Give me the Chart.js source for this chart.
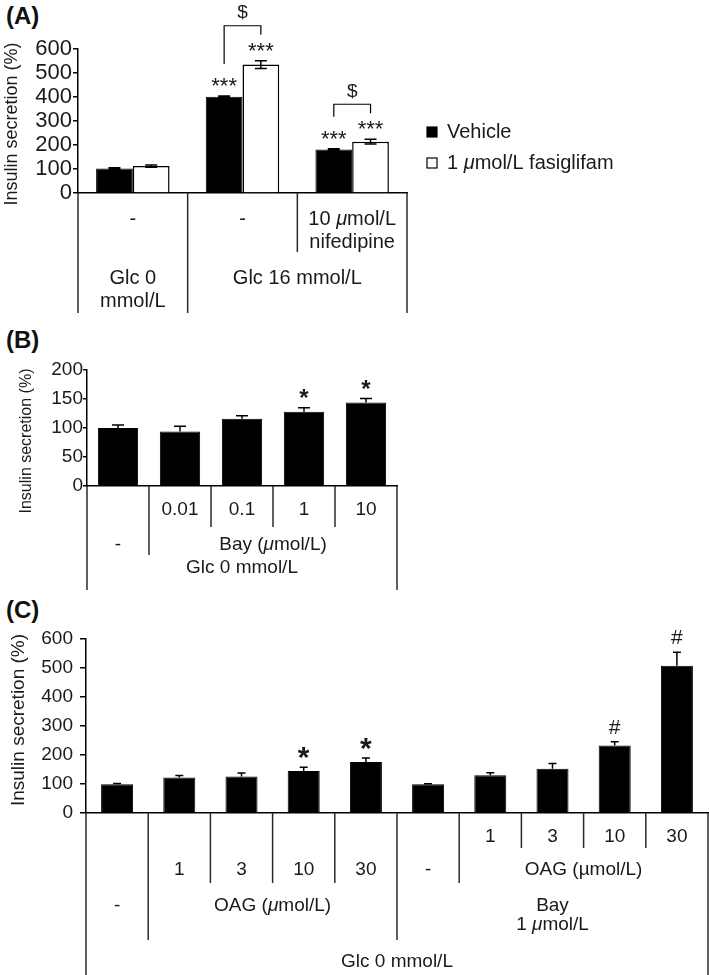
<!DOCTYPE html>
<html>
<head>
<meta charset="utf-8">
<script src="https://cdn.jsdelivr.net/npm/chart.js@4.4.1/dist/chart.umd.min.js"></script>
<style>
  html, body { margin: 0; padding: 0; background: #fff; }
  body { width: 709px; height: 975px; position: relative; overflow: hidden; font-family: 'Liberation Sans', Arial, sans-serif; }
  canvas { position: absolute; left: 0; }
  .lab { position: absolute; left: 6px; font-weight: bold; font-size: 24px; line-height: 24px; color: #111; }
</style>
</head>
<body>
<div class="lab" style="top:4px">(A)</div>
<div class="lab" style="top:328px">(B)</div>
<div class="lab" style="top:598px">(C)</div>
<canvas id="chartA" width="709" height="316" style="top:0"></canvas>
<canvas id="chartB" width="709" height="292" style="top:300px"></canvas>
<canvas id="chartC" width="709" height="375" style="top:600px"></canvas>
<script>
const FONT = "'Liberation Sans', Arial, sans-serif";
const INK = '#1a1a1a';
const Y_TITLE = 'Insulin secretion (%)';

// (A) vehicle vs fasiglifam, Glc 0 / Glc 16 / Glc 16 + nifedipine
const groupsA = ['Glc 0', 'Glc 16', 'Glc 16 + nifedipine'];
const vehicleA = [102, 401, 181];
const vehicleErrA = [3, 3, 3];
const fasiglifamA = [112, 535, 214];
const fasiglifamErrA = [5, 16, 10];
const starsVehicleA = ['', '***', '***'];
const starsFasiglifamA = ['', '***', '***'];
const dollarA = [false, true, true];
const ticksA = [0, 100, 200, 300, 400, 500, 600];
const legendA = ['Vehicle', '1 _μ_mol/L fasiglifam'];
// cells: [text, span]; text between _ _ is italic
const tableA = [
  [['-', 1], ['-', 1], ['10 _μ_mol/L\nnifedipine', 1]],
  [['Glc 0\nmmol/L', 1], ['Glc 16 mmol/L', 2]]
];

// (B) Bay dose response at Glc 0
const dosesB = ['-', '0.01', '0.1', '1', '10'];
const bayB = [100, 94, 116, 128, 144];
const bayErrB = [5, 9, 5, 7, 7];
const marksB = ['', '', '', '*', '*'];
const ticksB = [0, 50, 100, 150, 200];
const tableB = [
  [['', 1], ['0.01', 1], ['0.1', 1], ['1', 1], ['10', 1]],
  [['-', 1], ['Bay (_μ_mol/L)', 4]],
  [['Glc 0 mmol/L', 5]]
];

// (C) OAG with / without Bay 1 umol/L
const groupsC = ['-', 'OAG 1', 'OAG 3', 'OAG 10', 'OAG 30', 'Bay', 'Bay+OAG 1', 'Bay+OAG 3', 'Bay+OAG 10', 'Bay+OAG 30'];
const oagC = [99, 122, 126, 145, 176, 99, 130, 153, 233, 508];
const oagErrC = [3, 7, 12, 13, 14, 2, 9, 18, 13, 46];
const marksC = ['', '', '', '*', '*', '', '', '', '#', '#'];
const ticksC = [0, 100, 200, 300, 400, 500, 600];
const tableC = [
  [['', 6], ['1', 1], ['3', 1], ['10', 1], ['30', 1]],
  [['', 1], ['1', 1], ['3', 1], ['10', 1], ['30', 1], ['-', 1], ['OAG (µmol/L)', 4]],
  [['-', 1], ['OAG (_μ_mol/L)', 4], ['Bay\n1 _μ_mol/L', 5]],
  [['Glc 0 mmol/L', 10]]
];

Chart.defaults.font.family = FONT;
Chart.defaults.color = INK;

// text with italic pieces (marked by _), centred or left aligned
function drawRich(ctx, str, x, cy, size, align) {
  const parts = str.split('_');
  const fonts = parts.map((p, i) => (i % 2 ? 'italic ' : '') + size + 'px ' + FONT);
  let w = 0;
  parts.forEach((p, i) => { ctx.font = fonts[i]; w += ctx.measureText(p).width; });
  let cur = align === 'left' ? x : x - w / 2;
  ctx.textAlign = 'left';
  ctx.textBaseline = 'middle';
  parts.forEach((p, i) => {
    ctx.font = fonts[i];
    ctx.fillText(p, cur, cy);
    cur += ctx.measureText(p).width;
  });
}

// glyph centred on cy (uses real ink box)
function drawMark(ctx, text, x, cy, font) {
  ctx.font = font;
  ctx.textAlign = 'center';
  ctx.textBaseline = 'alphabetic';
  const m = ctx.measureText(text);
  ctx.fillText(text, x, cy + (m.actualBoundingBoxAscent - m.actualBoundingBoxDescent) / 2);
}

function extras(cfg) {
  return {
    id: 'extras',
    afterDatasetsDraw(chart) {
      const ctx = chart.ctx, ys = chart.scales.y, xs = chart.scales.x, area = chart.chartArea;
      ctx.save();
      ctx.fillStyle = INK;

      // error bars
      ctx.strokeStyle = '#000';
      ctx.lineWidth = 1.5;
      const tops = [];
      chart.data.datasets.forEach((ds, di) => {
        const meta = chart.getDatasetMeta(di);
        tops[di] = [];
        meta.data.forEach((bar, i) => {
          const v = ds.data[i], e = cfg.errs[di][i];
          const top = ys.getPixelForValue(v + e);
          const bot = cfg.both ? ys.getPixelForValue(v - e) : ys.getPixelForValue(v);
          tops[di][i] = top;
          ctx.beginPath();
          ctx.moveTo(bar.x, top); ctx.lineTo(bar.x, bot);
          ctx.moveTo(bar.x - cfg.cap, top); ctx.lineTo(bar.x + cfg.cap, top);
          if (cfg.both) { ctx.moveTo(bar.x - cfg.cap, bot); ctx.lineTo(bar.x + cfg.cap, bot); }
          ctx.stroke();
        });
      });

      // significance marks
      const markY = [];
      chart.data.datasets.forEach((ds, di) => {
        const meta = chart.getDatasetMeta(di);
        markY[di] = [];
        cfg.marks[di].forEach((mk, i) => {
          if (!mk) return;
          const st = cfg.markStyle[mk];
          const cy = tops[di][i] - st.gap;
          markY[di][i] = cy;
          drawMark(ctx, mk, meta.data[i].x, cy, st.font);
        });
      });

      // $ brackets between the two series
      if (cfg.brackets) {
        const m0 = chart.getDatasetMeta(0), m1 = chart.getDatasetMeta(1);
        cfg.brackets.forEach((on, i) => {
          if (!on) return;
          const x0 = m0.data[i].x, x1 = m1.data[i].x;
          const l0 = markY[0][i] - 18, l1 = markY[1][i] - 12;
          const ly = Math.min(l0, l1) - 9;
          ctx.beginPath();
          ctx.moveTo(x0, l0); ctx.lineTo(x0, ly); ctx.lineTo(x1, ly); ctx.lineTo(x1, l1);
          ctx.lineWidth = 1.2;
          ctx.stroke();
          drawMark(ctx, '$', (x0 + x1) / 2, ly - 13, '19px ' + FONT);
        });
      }

      // category table under the axis
      const t = cfg.table;
      const n = chart.data.labels.length;
      const step = xs.getPixelForValue(1) - xs.getPixelForValue(0);
      const edge = k => xs.getPixelForValue(0) - step / 2 + k * step;
      const deep = new Array(n + 1).fill(area.bottom);
      let rowTop = area.bottom;
      ctx.fillStyle = INK;
      t.rows.forEach((row, r) => {
        const rowBot = rowTop + t.heights[r];
        let k = 0;
        deep[0] = Math.max(deep[0], rowBot);
        row.forEach(([txt, span]) => {
          const cx = (edge(k) + edge(k + span)) / 2;
          if (txt) {
            txt.split('\n').forEach((ln, j) => drawRich(ctx, ln, cx, rowTop + t.offsets[r] + j * t.lineH, t.size));
          }
          k += span;
          deep[k] = Math.max(deep[k], rowBot);
        });
        rowTop = rowBot;
      });
      ctx.strokeStyle = '#2a2a2a';
      ctx.lineWidth = 1.5;
      deep.forEach((b, k) => {
        if (b <= area.bottom) return;
        ctx.beginPath();
        ctx.moveTo(edge(k), area.bottom);
        ctx.lineTo(edge(k), b);
        ctx.stroke();
      });

      // legend
      if (cfg.legend) {
        const L = cfg.legend;
        chart.data.datasets.forEach((ds, di) => {
          const cy = L.y + di * L.dy;
          ctx.fillStyle = ds.backgroundColor;
          ctx.fillRect(L.x, cy - L.box / 2, L.box, L.box);
          ctx.strokeStyle = '#000';
          ctx.lineWidth = 1.2;
          ctx.strokeRect(L.x, cy - L.box / 2, L.box, L.box);
          ctx.fillStyle = INK;
          drawRich(ctx, ds.label, L.x + L.box + 10, cy, L.size, 'left');
        });
      }

      // y axis title
      const yt = cfg.yTitle;
      ctx.translate(yt.x, yt.y);
      ctx.rotate(-Math.PI / 2);
      ctx.font = yt.size + 'px ' + FONT;
      ctx.textAlign = 'center';
      ctx.textBaseline = 'middle';
      ctx.fillStyle = INK;
      ctx.fillText(Y_TITLE, 0, 0);
      ctx.restore();
    }
  };
}

function yAxis(ticks, width, size, tickLen, pad) {
  return {
    min: ticks[0],
    max: ticks[ticks.length - 1],
    afterFit: s => { s.width = width; },
    afterBuildTicks: s => { s.ticks = ticks.map(v => ({ value: v })); },
    grid: { drawOnChartArea: false, drawTicks: true, tickLength: tickLen, color: '#000', lineWidth: 1.5 },
    border: { color: '#000', width: 1.5 },
    ticks: { font: { size: size }, color: INK, padding: pad, autoSkip: false }
  };
}

function xAxis(height) {
  return {
    afterFit: s => { s.height = height; },
    grid: { display: false },
    border: { color: '#000', width: 1.5 },
    ticks: { display: false }
  };
}

const common = {
  responsive: false,
  animation: false,
  plugins: { legend: { display: false }, tooltip: { enabled: false } }
};

new Chart(document.getElementById('chartA'), {
  type: 'bar',
  data: {
    labels: groupsA,
    datasets: [
      { label: legendA[0], data: vehicleA, backgroundColor: '#000', borderColor: '#000', borderWidth: 1,
        categoryPercentage: 0.67, barPercentage: 1 },
      { label: legendA[1], data: fasiglifamA, backgroundColor: '#fff', borderColor: '#000', borderWidth: 1.5,
        categoryPercentage: 0.67, barPercentage: 1 }
    ]
  },
  options: Object.assign({}, common, {
    layout: { padding: { top: 49, right: 302, left: 0, bottom: 0 } },
    scales: { x: xAxis(123), y: yAxis(ticksA, 78, 22, 5, 1) }
  }),
  plugins: [extras({
    errs: [vehicleErrA, fasiglifamErrA], both: true, cap: 6,
    marks: [starsVehicleA, starsFasiglifamA],
    markStyle: { '***': { font: '22px ' + FONT, gap: 14 } },
    brackets: dollarA,
    table: { rows: tableA, heights: [59, 61], offsets: [26, 26], lineH: 23, size: 20 },
    legend: { x: 427, y: 132, dy: 31, box: 10, size: 20 },
    yTitle: { x: 12, y: 124, size: 18 }
  })]
});

new Chart(document.getElementById('chartB'), {
  type: 'bar',
  data: {
    labels: dosesB,
    datasets: [
      { label: 'Bay', data: bayB, backgroundColor: '#000', borderColor: '#000', borderWidth: 1,
        categoryPercentage: 1, barPercentage: 0.65 }
    ]
  },
  options: Object.assign({}, common, {
    layout: { padding: { top: 70, right: 312, left: 0, bottom: 0 } },
    scales: { x: xAxis(106), y: yAxis(ticksB, 87, 19, 4, 0) }
  }),
  plugins: [extras({
    errs: [bayErrB], both: false, cap: 6,
    marks: [marksB],
    markStyle: { '*': { font: 'bold 24px ' + FONT, gap: 14 } },
    table: { rows: tableB, heights: [41, 28, 35], offsets: [24, 18, 13], lineH: 20, size: 19 },
    yTitle: { x: 27, y: 141, size: 16 }
  })]
});

new Chart(document.getElementById('chartC'), {
  type: 'bar',
  data: {
    labels: groupsC,
    datasets: [
      { label: 'OAG', data: oagC, backgroundColor: '#000', borderColor: '#000', borderWidth: 1,
        categoryPercentage: 1, barPercentage: 0.515 }
    ]
  },
  options: Object.assign({}, common, {
    layout: { padding: { top: 39, right: 1, left: 0, bottom: 0 } },
    scales: { x: xAxis(162), y: yAxis(ticksC, 86, 19, 6, 7) }
  }),
  plugins: [extras({
    errs: [oagErrC], both: false, cap: 4,
    marks: [marksC],
    markStyle: {
      '*': { font: 'bold 30px ' + FONT, gap: 14 },
      '#': { font: '21px ' + FONT, gap: 15 }
    },
    table: { rows: tableC, heights: [35, 35, 57, 38], offsets: [24, 22, 23, 22], lineH: 19, size: 19 },
    yTitle: { x: 19, y: 120, size: 19 }
  })]
});
</script>
</body>
</html>
